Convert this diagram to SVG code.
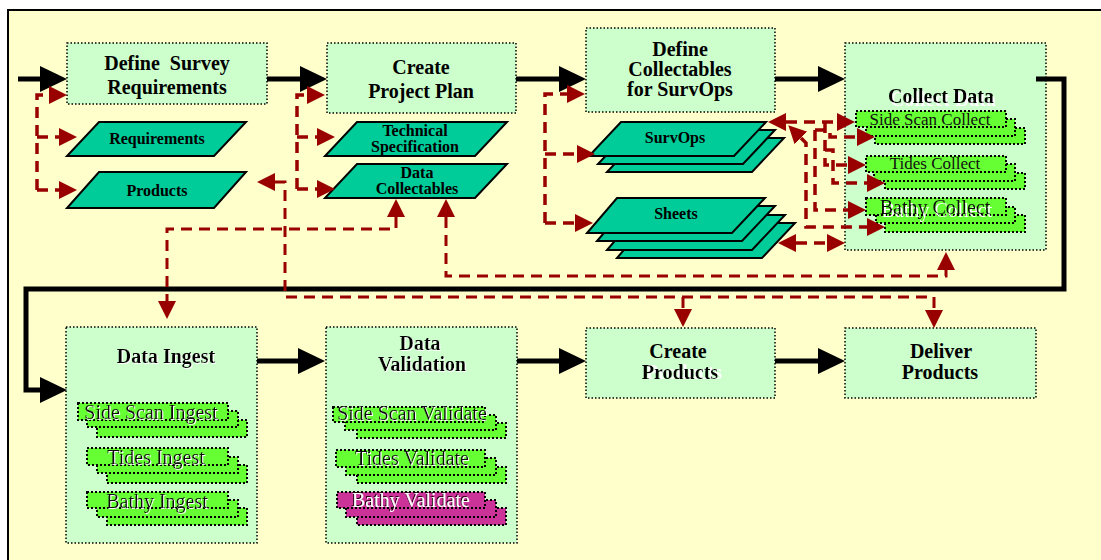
<svg xmlns="http://www.w3.org/2000/svg" width="1101" height="560" viewBox="0 0 1101 560">
<defs>
<style>
.box{fill:#CCFFCC;stroke:#000;stroke-width:1.5;stroke-dasharray:1.5 2}
.doc{fill:#00CC99;stroke:#000;stroke-width:2}
.item{fill:#66FF33;stroke:#000;stroke-width:2;stroke-dasharray:2 2}
.mag{fill:#CC3399;stroke:#000;stroke-width:2;stroke-dasharray:2 2}
.flow{fill:none;stroke:#000;stroke-width:5;marker-end:url(#big)}
.ref{fill:none;stroke:#990000;stroke-width:3.5;stroke-dasharray:11 7}
.thin{stroke-width:3}
.end{marker-end:url(#tip)}
.both{marker-start:url(#tip);marker-end:url(#tip)}
.ttl{font-family:"Liberation Serif","Times New Roman",serif;font-weight:bold;font-size:20px;text-anchor:middle;fill:#000}
.lbl{font-family:"Liberation Serif","Times New Roman",serif;font-weight:bold;font-size:16px;text-anchor:middle;fill:#000}
.sub{font-family:"Liberation Serif","Times New Roman",serif;font-size:20px;text-anchor:middle;fill:#111}
.sm{font-size:17px}
.wh{fill:#fff}
.sh3{filter:url(#shadow3)}
.sh1{filter:url(#shadow1)}
.sh4{filter:url(#shadow4)}
.shd{filter:url(#shadowDark)}
</style>
<!-- white drop shadows used behind step titles and task labels -->
<filter id="shadow3" x="-10%" y="-30%" width="120%" height="170%">
<feOffset in="SourceAlpha" dx="2" dy="3" result="o"/>
<feFlood flood-color="#fff"/>
<feComposite in2="o" operator="in" result="w"/>
<feMerge><feMergeNode in="w"/><feMergeNode in="SourceGraphic"/></feMerge>
</filter>
<filter id="shadow1" x="-10%" y="-30%" width="120%" height="170%">
<feOffset in="SourceAlpha" dx="1" dy="1" result="o"/>
<feFlood flood-color="#fff"/>
<feComposite in2="o" operator="in" result="w"/>
<feMerge><feMergeNode in="w"/><feMergeNode in="SourceGraphic"/></feMerge>
</filter>
<filter id="shadow4" x="-10%" y="-30%" width="120%" height="170%">
<feOffset in="SourceAlpha" dx="4" dy="0" result="o"/>
<feFlood flood-color="#fff"/>
<feComposite in2="o" operator="in" result="w"/>
<feMerge><feMergeNode in="w"/><feMergeNode in="SourceGraphic"/></feMerge>
</filter>
<filter id="shadowDark" x="-10%" y="-30%" width="120%" height="170%">
<feOffset in="SourceAlpha" dx="-1" dy="-1" result="o"/>
<feFlood flood-color="#220011"/>
<feComposite in2="o" operator="in" result="w"/>
<feMerge><feMergeNode in="w"/><feMergeNode in="SourceGraphic"/></feMerge>
</filter>
<marker id="big" markerUnits="userSpaceOnUse" markerWidth="28" markerHeight="27" refX="0" refY="13" orient="auto"><path d="M0,0 L27,13 L0,26 z" fill="#000"/></marker>
<marker id="tip" markerUnits="userSpaceOnUse" markerWidth="19" markerHeight="19" refX="0" refY="9" orient="auto-start-reverse"><path d="M0,0 L18,9 L0,18 z" fill="#990000"/></marker>
</defs>

<!-- page -->
<rect x="0" y="0" width="1101" height="560" fill="#fff"/>
<rect x="8" y="10" width="1100" height="560" fill="#FFFFCC" stroke="#000" stroke-width="2"/>

<!-- process steps, top row -->
<g id="define-requirements">
<rect class="box" x="67" y="43" width="200" height="61"/>
<text class="ttl" x="167" y="70" xml:space="preserve">Define  Survey</text>
<text class="ttl" x="167" y="94">Requirements</text>
</g>
<g id="requirements-doc">
<polygon class="doc" points="99,122 246,122 214,156 67,156"/>
<text class="lbl" x="157" y="144">Requirements</text>
</g>
<g id="products-doc">
<polygon class="doc" points="99,172 246,172 214,208 67,208"/>
<text class="lbl" x="157" y="196">Products</text>
</g>

<g id="create-plan">
<rect class="box" x="327" y="43" width="189" height="70"/>
<text class="ttl" x="421" y="74">Create</text>
<text class="ttl" x="421" y="98">Project Plan</text>
</g>
<g id="tech-spec">
<polygon class="doc" points="357,122 507,122 475,156 325,156"/>
<text class="lbl" x="415" y="136">Technical</text>
<text class="lbl" x="415" y="152">Specification</text>
</g>
<g id="data-collectables">
<polygon class="doc" points="357,164 507,164 475,198 325,198"/>
<text class="lbl" x="417" y="178">Data</text>
<text class="lbl" x="417" y="194">Collectables</text>
</g>

<g id="define-collectables">
<rect class="box" x="586" y="28" width="189" height="84"/>
<text class="ttl" x="680" y="56">Define</text>
<text class="ttl" x="680" y="76">Collectables</text>
<text class="ttl" x="680" y="96">for SurvOps</text>
</g>
<g id="survops">
<polygon class="doc" points="639,138 784,138 752,172 607,172"/>
<polygon class="doc" points="630,130 775,130 743,164 598,164"/>
<polygon class="doc" points="621,122 766,122 734,156 589,156"/>
<text class="lbl" x="675" y="143">SurvOps</text>
</g>
<g id="sheets">
<polygon class="doc" points="647,223 795,223 762,258 617,258"/>
<polygon class="doc" points="637,215 785,215 752,250 607,250"/>
<polygon class="doc" points="627,206 775,206 742,241 597,241"/>
<polygon class="doc" points="617,198 765,198 732,233 587,233"/>
<text class="lbl" x="676" y="219">Sheets</text>
</g>

<g id="collect-data">
<rect class="box" x="845" y="43" width="201" height="207"/>
<text class="ttl sh3" x="941" y="103">Collect Data</text>
<rect class="item" x="875" y="128" width="150" height="16"/>
<rect class="item" x="866" y="119" width="149" height="17"/>
<rect class="item" x="856" y="111" width="150" height="16"/>
<text class="sub sm" x="930" y="125">Side Scan Collect</text>
<rect class="item" x="885" y="173" width="140" height="16"/>
<rect class="item" x="874" y="164" width="141" height="17"/>
<rect class="item" x="866" y="156" width="140" height="16"/>
<text class="sub sm" x="935" y="169">Tides Collect</text>
<rect class="item" x="885" y="215" width="140" height="17"/>
<rect class="item" x="876" y="207" width="139" height="16"/>
<rect class="item" x="866" y="198" width="140" height="17"/>
<text class="sub sh3" x="935" y="214">Bathy Collect</text>
</g>

<!-- process steps, bottom row -->
<g id="data-ingest">
<rect class="box" x="66" y="327" width="191" height="216"/>
<text class="ttl sh1" x="166" y="363">Data Ingest</text>
<rect class="item" x="97" y="420" width="150" height="17"/>
<rect class="item" x="87" y="411" width="151" height="16"/>
<rect class="item" x="78" y="403" width="150" height="17"/>
<text class="sub sh1" x="151" y="419">Side Scan Ingest</text>
<rect class="item" x="107" y="465" width="140" height="18"/>
<rect class="item" x="97" y="457" width="141" height="16"/>
<rect class="item" x="87" y="448" width="141" height="17"/>
<text class="sub sh1" x="156" y="464">Tides Ingest</text>
<rect class="item" x="107" y="508" width="140" height="17"/>
<rect class="item" x="97" y="500" width="141" height="17"/>
<rect class="item" x="87" y="492" width="141" height="16"/>
<text class="sub sh1" x="157" y="508">Bathy Ingest</text>
</g>

<g id="data-validation">
<rect class="box" x="326" y="327" width="191" height="216"/>
<text class="ttl sh1" x="420" y="350">Data</text>
<text class="ttl sh1" x="422" y="371">Validation</text>
<rect class="item" x="357" y="423" width="149" height="15"/>
<rect class="item" x="345" y="415" width="151" height="15"/>
<rect class="item" x="333" y="407" width="152" height="15"/>
<text class="sub sh1" x="412" y="420">Side Scan Validate</text>
<rect class="item" x="357" y="467" width="149" height="16"/>
<rect class="item" x="346" y="458" width="150" height="17"/>
<rect class="item" x="336" y="450" width="149" height="17"/>
<text class="sub sh1" x="412" y="465">Tides Validate</text>
<rect class="mag" x="357" y="508" width="149" height="17"/>
<rect class="mag" x="346" y="500" width="150" height="17"/>
<rect class="mag" x="337" y="492" width="148" height="16"/>
<text class="sub wh shd" x="411" y="507">Bathy Validate</text>
</g>

<g id="create-products">
<rect class="box" x="586" y="328" width="189" height="70"/>
<text class="ttl" x="678" y="358">Create</text>
<text class="ttl sh4" x="680" y="379">Products</text>
</g>

<g id="deliver-products">
<rect class="box" x="845" y="328" width="191" height="70"/>
<text class="ttl" x="941" y="358">Deliver</text>
<text class="ttl" x="940" y="379">Products</text>
</g>

<!-- connectors -->
<g id="connectors">
<!-- main process flow -->
<path class="flow" d="M18,79 H40"/>
<path class="flow" d="M267,79 H300"/>
<path class="flow" d="M516,79 H559"/>
<path class="flow" d="M775,79 H818"/>
<path class="flow" d="M1036,79 H1064 V289 H26 V390 H40"/>
<path class="flow" d="M257,361 H298"/>
<path class="flow" d="M517,361 H559"/>
<path class="flow" d="M775,361 H818"/>

<!-- outputs of each step -->
<path class="ref end" d="M37,190 V95 H49"/>
<path class="ref end" d="M37,137 H59"/>
<path class="ref end" d="M37,190 H59"/>
<path class="ref end" d="M297,189 V95 H307"/>
<path class="ref end" d="M297,137 H317"/>
<path class="ref end" d="M297,189 H317"/>
<path class="ref end" d="M545,223 V94 H567"/>
<path class="ref end" d="M545,154 H577"/>
<path class="ref end" d="M545,223 H575"/>

<!-- product definitions to product steps -->
<path class="ref thin both" d="M275,182 H285 V297 H934 V310"/>
<path class="ref thin end" d="M683,297 V309"/>
<!-- collectables to ingest and collection -->
<path class="ref thin both" d="M396,217 V229 H167 V301"/>
<path class="ref thin both" d="M446,217 V276 H946 V270"/>

<!-- survey operations and sheets to collection tasks -->
<path class="ref both" d="M786,122 H837"/>
<path class="ref both" d="M801,138 L806,143 V227 H867"/>
<path class="ref end" d="M815,130 H830 V137 H857"/>
<path class="ref end" d="M825,122 V165 H848"/>
<path class="ref end" d="M815,130 V210 H848"/>
<path class="ref end" d="M825,150 H833 V183 H867"/>
<path class="ref both" d="M796,243 H827"/>
</g>
</svg>
